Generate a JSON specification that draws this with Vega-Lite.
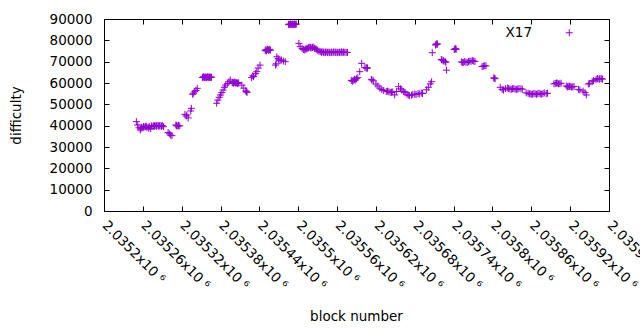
{
  "$schema": "https://vega.github.io/schema/vega-lite/v6.json",
  "width": 505,
  "height": 192,
  "autosize": {"type": "none"},
  "padding": {"left": 104, "top": 19, "right": 31, "bottom": 119},
  "background": "white",
  "config": {
    "view": {"stroke": "black", "strokeWidth": 1},
    "font": "DejaVu Sans",
    "axis": {"grid": false, "domain": false, "tickColor": "black", "tickSize": -5, "labelColor": "black", "labelFont": "DejaVu Sans", "labelFontSize": 13.5, "titleFont": "DejaVu Sans", "titleFontSize": 13.5, "titleFontWeight": "normal", "titleColor": "black", "labelOverlap": false, "labelFlush": false, "labelBound": false}
  },
  "data": {"values": [
    {"block": 2035250, "difficulty": 41900}, {"block": 2035252, "difficulty": 40300},
    {"block": 2035254, "difficulty": 39000}, {"block": 2035256, "difficulty": 38000},
    {"block": 2035257, "difficulty": 38600}, {"block": 2035258, "difficulty": 39200},
    {"block": 2035260, "difficulty": 39000}, {"block": 2035261, "difficulty": 39600},
    {"block": 2035262, "difficulty": 39400}, {"block": 2035264, "difficulty": 39500},
    {"block": 2035265, "difficulty": 39800}, {"block": 2035266, "difficulty": 39300},
    {"block": 2035268, "difficulty": 39200}, {"block": 2035269, "difficulty": 38800},
    {"block": 2035270, "difficulty": 39600}, {"block": 2035272, "difficulty": 38600},
    {"block": 2035273, "difficulty": 39900}, {"block": 2035274, "difficulty": 39700},
    {"block": 2035276, "difficulty": 39600}, {"block": 2035277, "difficulty": 40100},
    {"block": 2035278, "difficulty": 39800}, {"block": 2035280, "difficulty": 40000},
    {"block": 2035281, "difficulty": 39700}, {"block": 2035282, "difficulty": 40200},
    {"block": 2035284, "difficulty": 39800}, {"block": 2035285, "difficulty": 40000},
    {"block": 2035286, "difficulty": 39900}, {"block": 2035288, "difficulty": 40000},
    {"block": 2035289, "difficulty": 39600}, {"block": 2035290, "difficulty": 40100},
    {"block": 2035292, "difficulty": 39500}, {"block": 2035299, "difficulty": 36800},
    {"block": 2035301, "difficulty": 36200}, {"block": 2035303, "difficulty": 35600},
    {"block": 2035305, "difficulty": 35300}, {"block": 2035311, "difficulty": 40300},
    {"block": 2035312, "difficulty": 40000}, {"block": 2035314, "difficulty": 39800},
    {"block": 2035315, "difficulty": 40100}, {"block": 2035317, "difficulty": 39900},
    {"block": 2035325, "difficulty": 45300}, {"block": 2035327, "difficulty": 44500},
    {"block": 2035328, "difficulty": 45000}, {"block": 2035330, "difficulty": 43600},
    {"block": 2035334, "difficulty": 46900}, {"block": 2035335, "difficulty": 48100},
    {"block": 2035337, "difficulty": 54700}, {"block": 2035338, "difficulty": 55200},
    {"block": 2035340, "difficulty": 55900}, {"block": 2035342, "difficulty": 56500},
    {"block": 2035344, "difficulty": 57500}, {"block": 2035352, "difficulty": 62600},
    {"block": 2035353, "difficulty": 62700}, {"block": 2035354, "difficulty": 62900},
    {"block": 2035355, "difficulty": 62600}, {"block": 2035356, "difficulty": 62700},
    {"block": 2035357, "difficulty": 62800}, {"block": 2035358, "difficulty": 62500},
    {"block": 2035359, "difficulty": 62700}, {"block": 2035360, "difficulty": 62900},
    {"block": 2035361, "difficulty": 62600}, {"block": 2035362, "difficulty": 62800},
    {"block": 2035363, "difficulty": 62700}, {"block": 2035364, "difficulty": 62600},
    {"block": 2035365, "difficulty": 62800}, {"block": 2035366, "difficulty": 62700},
    {"block": 2035374, "difficulty": 50500}, {"block": 2035376, "difficulty": 52000},
    {"block": 2035378, "difficulty": 53300}, {"block": 2035380, "difficulty": 54400},
    {"block": 2035382, "difficulty": 55500}, {"block": 2035384, "difficulty": 56700},
    {"block": 2035386, "difficulty": 58000}, {"block": 2035388, "difficulty": 59000},
    {"block": 2035391, "difficulty": 59800}, {"block": 2035393, "difficulty": 60600},
    {"block": 2035395, "difficulty": 61400}, {"block": 2035398, "difficulty": 60300},
    {"block": 2035399, "difficulty": 60100}, {"block": 2035400, "difficulty": 59900},
    {"block": 2035401, "difficulty": 60400}, {"block": 2035402, "difficulty": 60300},
    {"block": 2035403, "difficulty": 60000}, {"block": 2035404, "difficulty": 60200},
    {"block": 2035405, "difficulty": 60000}, {"block": 2035406, "difficulty": 59800},
    {"block": 2035407, "difficulty": 60200}, {"block": 2035408, "difficulty": 59900},
    {"block": 2035413, "difficulty": 59000}, {"block": 2035416, "difficulty": 57600},
    {"block": 2035419, "difficulty": 56300}, {"block": 2035420, "difficulty": 55900},
    {"block": 2035421, "difficulty": 55600}, {"block": 2035428, "difficulty": 62500},
    {"block": 2035430, "difficulty": 63400}, {"block": 2035431, "difficulty": 63000},
    {"block": 2035434, "difficulty": 64400}, {"block": 2035436, "difficulty": 65300},
    {"block": 2035438, "difficulty": 67000}, {"block": 2035441, "difficulty": 68400},
    {"block": 2035449, "difficulty": 75200}, {"block": 2035450, "difficulty": 75600},
    {"block": 2035451, "difficulty": 75000}, {"block": 2035452, "difficulty": 75800},
    {"block": 2035453, "difficulty": 75700}, {"block": 2035454, "difficulty": 75300},
    {"block": 2035455, "difficulty": 75500}, {"block": 2035456, "difficulty": 75800},
    {"block": 2035457, "difficulty": 75400}, {"block": 2035465, "difficulty": 68400},
    {"block": 2035466, "difficulty": 69000}, {"block": 2035467, "difficulty": 72300},
    {"block": 2035469, "difficulty": 71500}, {"block": 2035470, "difficulty": 70800},
    {"block": 2035472, "difficulty": 70500}, {"block": 2035474, "difficulty": 70800},
    {"block": 2035477, "difficulty": 70300}, {"block": 2035480, "difficulty": 70000},
    {"block": 2035485, "difficulty": 87500}, {"block": 2035486, "difficulty": 87300},
    {"block": 2035487, "difficulty": 87500}, {"block": 2035488, "difficulty": 87700},
    {"block": 2035489, "difficulty": 87400}, {"block": 2035490, "difficulty": 87500},
    {"block": 2035491, "difficulty": 87600}, {"block": 2035492, "difficulty": 87300},
    {"block": 2035493, "difficulty": 87500}, {"block": 2035494, "difficulty": 87700},
    {"block": 2035495, "difficulty": 87400}, {"block": 2035496, "difficulty": 87500},
    {"block": 2035497, "difficulty": 87600}, {"block": 2035501, "difficulty": 78600},
    {"block": 2035503, "difficulty": 77000}, {"block": 2035506, "difficulty": 76200},
    {"block": 2035508, "difficulty": 75700}, {"block": 2035510, "difficulty": 75500},
    {"block": 2035511, "difficulty": 75900}, {"block": 2035513, "difficulty": 76000},
    {"block": 2035514, "difficulty": 76300}, {"block": 2035516, "difficulty": 76500},
    {"block": 2035517, "difficulty": 76800}, {"block": 2035519, "difficulty": 76700},
    {"block": 2035520, "difficulty": 76400}, {"block": 2035522, "difficulty": 76600},
    {"block": 2035523, "difficulty": 76900}, {"block": 2035525, "difficulty": 76300},
    {"block": 2035526, "difficulty": 76100}, {"block": 2035528, "difficulty": 75800},
    {"block": 2035530, "difficulty": 75400}, {"block": 2035532, "difficulty": 74900},
    {"block": 2035534, "difficulty": 74700}, {"block": 2035536, "difficulty": 74400},
    {"block": 2035537, "difficulty": 74600}, {"block": 2035539, "difficulty": 74500},
    {"block": 2035540, "difficulty": 74200}, {"block": 2035542, "difficulty": 74400},
    {"block": 2035543, "difficulty": 74600}, {"block": 2035545, "difficulty": 74300},
    {"block": 2035546, "difficulty": 74500}, {"block": 2035548, "difficulty": 74400},
    {"block": 2035549, "difficulty": 74200}, {"block": 2035551, "difficulty": 74500},
    {"block": 2035552, "difficulty": 74300}, {"block": 2035554, "difficulty": 74400},
    {"block": 2035555, "difficulty": 74600}, {"block": 2035557, "difficulty": 74300},
    {"block": 2035558, "difficulty": 74500}, {"block": 2035560, "difficulty": 74400},
    {"block": 2035561, "difficulty": 74200}, {"block": 2035563, "difficulty": 74500},
    {"block": 2035564, "difficulty": 74300}, {"block": 2035566, "difficulty": 74400},
    {"block": 2035567, "difficulty": 74600}, {"block": 2035569, "difficulty": 74300},
    {"block": 2035570, "difficulty": 74500}, {"block": 2035572, "difficulty": 74400},
    {"block": 2035574, "difficulty": 74400}, {"block": 2035576, "difficulty": 74300},
    {"block": 2035582, "difficulty": 61200}, {"block": 2035584, "difficulty": 60800},
    {"block": 2035585, "difficulty": 61300}, {"block": 2035587, "difficulty": 61700},
    {"block": 2035588, "difficulty": 61400}, {"block": 2035590, "difficulty": 62000},
    {"block": 2035592, "difficulty": 62500}, {"block": 2035595, "difficulty": 65300},
    {"block": 2035598, "difficulty": 69200}, {"block": 2035603, "difficulty": 67300},
    {"block": 2035605, "difficulty": 66900}, {"block": 2035606, "difficulty": 67200},
    {"block": 2035607, "difficulty": 67000}, {"block": 2035613, "difficulty": 61700},
    {"block": 2035614, "difficulty": 61400}, {"block": 2035616, "difficulty": 61000},
    {"block": 2035620, "difficulty": 59500}, {"block": 2035623, "difficulty": 58600},
    {"block": 2035626, "difficulty": 57600}, {"block": 2035629, "difficulty": 57000},
    {"block": 2035632, "difficulty": 56500}, {"block": 2035636, "difficulty": 56000},
    {"block": 2035638, "difficulty": 56200}, {"block": 2035640, "difficulty": 55900},
    {"block": 2035642, "difficulty": 55600}, {"block": 2035644, "difficulty": 55700},
    {"block": 2035646, "difficulty": 55800}, {"block": 2035649, "difficulty": 54400},
    {"block": 2035652, "difficulty": 56000}, {"block": 2035655, "difficulty": 58300},
    {"block": 2035658, "difficulty": 57300}, {"block": 2035660, "difficulty": 56700},
    {"block": 2035663, "difficulty": 56000}, {"block": 2035665, "difficulty": 55500},
    {"block": 2035668, "difficulty": 54700}, {"block": 2035670, "difficulty": 54400},
    {"block": 2035672, "difficulty": 54100}, {"block": 2035675, "difficulty": 54300},
    {"block": 2035677, "difficulty": 54600}, {"block": 2035680, "difficulty": 54800},
    {"block": 2035682, "difficulty": 54600}, {"block": 2035685, "difficulty": 55000},
    {"block": 2035687, "difficulty": 54900}, {"block": 2035690, "difficulty": 55300},
    {"block": 2035692, "difficulty": 55100}, {"block": 2035698, "difficulty": 56800},
    {"block": 2035701, "difficulty": 58000}, {"block": 2035704, "difficulty": 59600},
    {"block": 2035706, "difficulty": 60600}, {"block": 2035707, "difficulty": 74200},
    {"block": 2035712, "difficulty": 77800}, {"block": 2035713, "difficulty": 78100},
    {"block": 2035714, "difficulty": 78400}, {"block": 2035715, "difficulty": 78200},
    {"block": 2035721, "difficulty": 71000}, {"block": 2035722, "difficulty": 70800},
    {"block": 2035724, "difficulty": 70500}, {"block": 2035725, "difficulty": 70300},
    {"block": 2035727, "difficulty": 70000}, {"block": 2035728, "difficulty": 69700},
    {"block": 2035729, "difficulty": 66000}, {"block": 2035741, "difficulty": 75700},
    {"block": 2035742, "difficulty": 75900}, {"block": 2035743, "difficulty": 76100},
    {"block": 2035744, "difficulty": 75800}, {"block": 2035752, "difficulty": 69900},
    {"block": 2035754, "difficulty": 69600}, {"block": 2035755, "difficulty": 69700},
    {"block": 2035757, "difficulty": 70000}, {"block": 2035759, "difficulty": 69800},
    {"block": 2035761, "difficulty": 69600}, {"block": 2035763, "difficulty": 70000},
    {"block": 2035765, "difficulty": 70300}, {"block": 2035767, "difficulty": 70200},
    {"block": 2035769, "difficulty": 70500}, {"block": 2035771, "difficulty": 70300},
    {"block": 2035773, "difficulty": 70100}, {"block": 2035784, "difficulty": 67700},
    {"block": 2035786, "difficulty": 67900}, {"block": 2035788, "difficulty": 68100},
    {"block": 2035790, "difficulty": 68000}, {"block": 2035802, "difficulty": 62400},
    {"block": 2035803, "difficulty": 62200}, {"block": 2035804, "difficulty": 62000},
    {"block": 2035812, "difficulty": 58000}, {"block": 2035815, "difficulty": 57000},
    {"block": 2035817, "difficulty": 56700}, {"block": 2035820, "difficulty": 57400},
    {"block": 2035823, "difficulty": 57700}, {"block": 2035825, "difficulty": 57400},
    {"block": 2035827, "difficulty": 57200}, {"block": 2035829, "difficulty": 57000},
    {"block": 2035831, "difficulty": 57300}, {"block": 2035833, "difficulty": 57400},
    {"block": 2035835, "difficulty": 57100}, {"block": 2035837, "difficulty": 57000},
    {"block": 2035839, "difficulty": 57200}, {"block": 2035841, "difficulty": 57400},
    {"block": 2035844, "difficulty": 57300}, {"block": 2035846, "difficulty": 57100},
    {"block": 2035852, "difficulty": 55400}, {"block": 2035855, "difficulty": 55200},
    {"block": 2035857, "difficulty": 54900}, {"block": 2035858, "difficulty": 55000},
    {"block": 2035860, "difficulty": 54700}, {"block": 2035862, "difficulty": 54800},
    {"block": 2035864, "difficulty": 55100}, {"block": 2035866, "difficulty": 54900},
    {"block": 2035868, "difficulty": 54700}, {"block": 2035870, "difficulty": 55000},
    {"block": 2035872, "difficulty": 55200}, {"block": 2035874, "difficulty": 54900},
    {"block": 2035876, "difficulty": 54800}, {"block": 2035878, "difficulty": 55100},
    {"block": 2035880, "difficulty": 55300}, {"block": 2035883, "difficulty": 55000},
    {"block": 2035885, "difficulty": 55200}, {"block": 2035895, "difficulty": 59600},
    {"block": 2035897, "difficulty": 59800}, {"block": 2035899, "difficulty": 60000},
    {"block": 2035900, "difficulty": 59900}, {"block": 2035902, "difficulty": 59600},
    {"block": 2035904, "difficulty": 59700}, {"block": 2035906, "difficulty": 59900},
    {"block": 2035914, "difficulty": 58600}, {"block": 2035916, "difficulty": 58200},
    {"block": 2035917, "difficulty": 58300}, {"block": 2035919, "difficulty": 58500},
    {"block": 2035920, "difficulty": 58400}, {"block": 2035922, "difficulty": 58100},
    {"block": 2035924, "difficulty": 58200}, {"block": 2035926, "difficulty": 58400},
    {"block": 2035933, "difficulty": 57000}, {"block": 2035935, "difficulty": 56700},
    {"block": 2035940, "difficulty": 56200}, {"block": 2035943, "difficulty": 55500},
    {"block": 2035945, "difficulty": 54400}, {"block": 2035948, "difficulty": 59500},
    {"block": 2035950, "difficulty": 59800}, {"block": 2035954, "difficulty": 60600},
    {"block": 2035956, "difficulty": 61100}, {"block": 2035960, "difficulty": 61700},
    {"block": 2035962, "difficulty": 62100}, {"block": 2035963, "difficulty": 61900},
    {"block": 2035965, "difficulty": 61800}, {"block": 2035966, "difficulty": 62000},
    {"block": 2035968, "difficulty": 62100}, {"block": 2035970, "difficulty": 61800}
  ]},
  "layer": [
    {
      "mark": {"type": "point", "shape": "M-1,0H1M0,-1V1", "filled": false, "size": 49, "strokeWidth": 1, "opacity": 1, "clip": true},
      "encoding": {
        "x": {"field": "block", "type": "quantitative",
          "scale": {"domain": [2035200, 2035980], "nice": false, "zero": false},
          "axis": {"orient": "bottom", "values": [2035200, 2035260, 2035320, 2035380, 2035440, 2035500, 2035560, 2035620, 2035680, 2035740, 2035800, 2035860, 2035920, 2035980],
            "labelExpr": "format(datum.value / 1000000, '.6~f') + 'x10 ⁶'",
            "labelAngle": 45, "labelAlign": "left", "labelBaseline": "top", "labelPadding": 12, "labelOffset": 5,
            "title": "block number", "titleY": 98, "titleBaseline": "top", "titleX": 252}},
        "y": {"field": "difficulty", "type": "quantitative",
          "scale": {"domain": [0, 90000], "nice": false},
          "axis": {"orient": "left", "values": [0, 10000, 20000, 30000, 40000, 50000, 60000, 70000, 80000, 90000], "format": "d",
            "labelPadding": 17, "title": "difficulty", "titleAngle": -90, "titleX": -88, "titleY": 96, "titleBaseline": "middle", "titleAlign": "center"}},
        "color": {"datum": "X17", "type": "nominal", "scale": {"range": ["#9400D3"]},
          "legend": {"orient": "none", "legendX": 458.5, "legendY": 7, "title": null, "padding": 0,
            "symbolType": "M-1,0H1M0,-1V1", "symbolSize": 49, "symbolStrokeWidth": 1, "symbolFillColor": "transparent", "symbolStrokeColor": "#9400D3",
            "labelAlign": "right", "labelOffset": -44, "labelFontSize": 13.5, "labelFont": "DejaVu Sans", "labelColor": "black"}}
      }
    },
    {
      "mark": {"type": "point", "opacity": 0},
      "encoding": {
        "x": {"field": "block", "type": "quantitative",
          "axis": {"orient": "top", "values": [2035200, 2035260, 2035320, 2035380, 2035440, 2035500, 2035560, 2035620, 2035680, 2035740, 2035800, 2035860, 2035920, 2035980], "labels": false, "title": null}},
        "y": {"field": "difficulty", "type": "quantitative",
          "axis": {"orient": "right", "values": [0, 10000, 20000, 30000, 40000, 50000, 60000, 70000, 80000, 90000], "labels": false, "title": null}}
      }
    }
  ],
  "resolve": {"axis": {"x": "independent", "y": "independent"}}
}
